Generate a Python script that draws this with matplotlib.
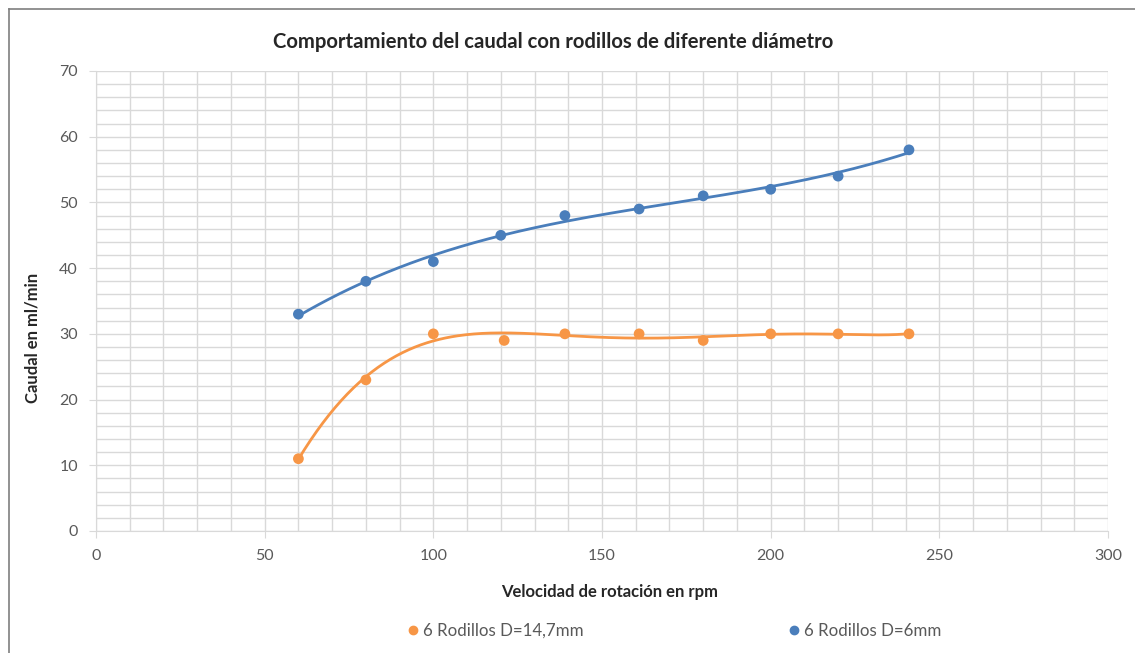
import numpy as np
import matplotlib.pyplot as plt
from matplotlib.lines import Line2D

# Measured flow rate vs. rotation speed for two roller diameters
rpm_large = [60, 80, 100, 121, 139, 161, 180, 200, 220, 241]
flow_large = [11, 23, 30, 29, 30, 30, 29, 30, 30, 30]

rpm_small = [60, 80, 100, 120, 139, 161, 180, 200, 220, 241]
flow_small = [33, 38, 41, 45, 48, 49, 51, 52, 54, 58]

label_large = "6 Rodillos D=14,7mm"
label_small = "6 Rodillos D=6mm"
title = "Comportamiento del caudal con rodillos de diferente diámetro"
xlabel = "Velocidad de rotación en rpm"
ylabel = "Caudal en ml/min"

c_orange = "#F79646"
c_blue = "#4A7EBB"
grid_c = "#D9D9D9"
text_c = "#595959"

plt.rcParams["font.family"] = ["Lato", "DejaVu Sans"]

W, H = 1135, 653
fig = plt.figure(figsize=(W / 100, H / 100), dpi=100)
ax = fig.add_axes([96 / W, 1 - 531 / H, (1108 - 96) / W, (531 - 71) / H])

# Polynomial trendlines fitted to each series
for xs, ys, deg, col in [(rpm_large, flow_large, 6, c_orange),
                         (rpm_small, flow_small, 3, c_blue)]:
    xs_a = np.asarray(xs, float)
    coef = np.polyfit(xs_a, ys, deg)
    xx = np.linspace(xs_a.min(), xs_a.max(), 300)
    ax.plot(xx, np.polyval(coef, xx), color=col, lw=2.0, zorder=3)
    ax.scatter(xs, ys, s=60, color=col, zorder=4, edgecolors="none")

ax.set_xlim(0, 300)
ax.set_ylim(0, 70)
ax.set_xticks(np.arange(0, 301, 50))
ax.set_yticks(np.arange(0, 71, 10))
ax.set_xticks(np.arange(0, 301, 10), minor=True)
ax.set_yticks(np.arange(0, 71, 2), minor=True)
ax.grid(True, which="both", color=grid_c, lw=1.0, zorder=0)
ax.set_axisbelow(True)
ax.tick_params(which="minor", length=0)
ax.tick_params(which="major", length=5, color=grid_c, labelcolor=text_c,
               labelsize=11.5, pad=8)
for s in ["top", "right"]:
    ax.spines[s].set_visible(False)
for s in ["left", "bottom"]:
    ax.spines[s].set_color(grid_c)

fig.text(610 / W, 1 - 592 / H, xlabel, ha="center", va="center",
         fontsize=12, fontweight="bold", color="#262626")
fig.text(33 / W, 1 - 338 / H, ylabel, ha="center", va="center", rotation=90,
         fontsize=12, fontweight="bold", color="#262626")

fig.text(553 / W, 1 - 42 / H, title, ha="center", va="center",
         fontsize=14.6, fontweight="bold", color="#262626")

handles = [Line2D([], [], ls="none", marker="o", ms=6, color=c_orange),
           Line2D([], [], ls="none", marker="o", ms=6, color=c_blue)]
fig.legend(handles, [label_large, label_small], loc="center",
           bbox_to_anchor=(673 / W, 1 - 631 / H), ncol=2, frameon=False,
           fontsize=12.2, labelcolor=text_c, columnspacing=11.9, handletextpad=0.1,
           handlelength=1.0)

# Chart frame edges
fig.add_artist(Line2D([9 / W, 9 / W], [0, 1 - 9 / H], transform=fig.transFigure,
                      color="#7F7F7F", lw=1.2))
fig.add_artist(Line2D([9 / W, 1], [1 - 9 / H, 1 - 9 / H], transform=fig.transFigure,
                      color="#7F7F7F", lw=1.2))

fig.savefig("out.png", dpi=100)
